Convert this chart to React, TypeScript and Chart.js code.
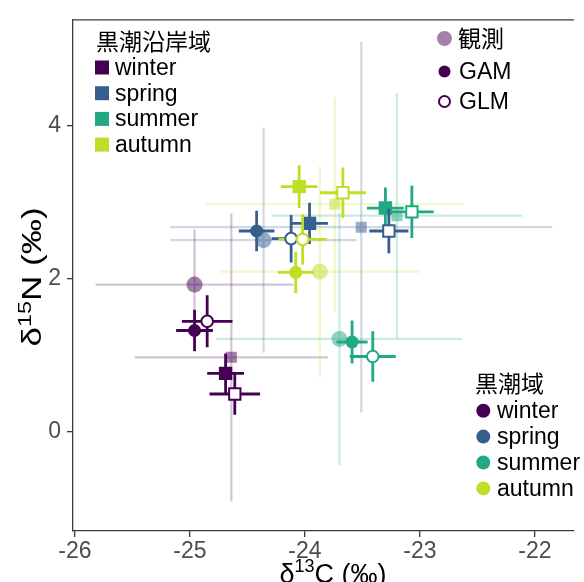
import React, { useEffect, useRef } from "react";
import { Chart, registerables } from "chart.js";

Chart.register(...registerables);

// ---------- data ----------
const seasons = ["winter", "spring", "summer", "autumn"];
const seasonColors = ["#440154", "#355F8D", "#22A884", "#BDDF26"];
const xTicks = [-26, -25, -24, -23, -22];
const yTicks = [0, 2, 4];
const coastalTitle = "黒潮沿岸域";
const kuroshioTitle = "黒潮域";
const typeLabels = ["観測", "GAM", "GLM"];
const xTitle = ["δ", "13", "C (‰)"];
const yTitle = ["δ", "15", "N (‰)"];

// 観測 (observations) — 黒潮沿岸域 (squares)
const coastalObsX = [-24.64, -23.51, -23.2, -23.74];
const coastalObsY = [0.97, 2.67, 2.82, 2.97];
const coastalObsXErr = [0.84, 1.66, 1.09, 1.12];
const coastalObsYErr = [1.88, 2.42, 1.6, 1.4];

// 観測 — 黒潮域 (circles)
const kuroshioObsX = [-24.96, -24.36, -23.7, -23.87];
const kuroshioObsY = [1.92, 2.5, 1.21, 2.09];
const kuroshioObsXErr = [0.86, 0.81, 1.07, 0.87];
const kuroshioObsYErr = [0.72, 1.47, 1.65, 1.38];

// GAM — 黒潮沿岸域
const coastalGamX = [-24.69, -23.96, -23.3, -24.05];
const coastalGamY = [0.76, 2.72, 2.92, 3.2];
const coastalGamXErr = [0.16, 0.16, 0.16, 0.16];
const coastalGamYErr = [0.26, 0.27, 0.27, 0.28];

// GAM — 黒潮域
const kuroshioGamX = [-24.96, -24.42, -23.59, -24.08];
const kuroshioGamY = [1.32, 2.62, 1.17, 2.08];
const kuroshioGamXErr = [0.16, 0.155, 0.135, 0.155];
const kuroshioGamYErr = [0.27, 0.265, 0.28, 0.27];

// GLM — 黒潮沿岸域
const coastalGlmX = [-24.61, -23.27, -23.07, -23.67];
const coastalGlmY = [0.49, 2.62, 2.87, 3.12];
const coastalGlmXErr = [0.22, 0.17, 0.19, 0.2];
const coastalGlmYErr = [0.27, 0.29, 0.34, 0.33];

// GLM — 黒潮域
const kuroshioGlmX = [-24.85, -24.12, -23.41, -24.02];
const kuroshioGlmY = [1.44, 2.52, 0.98, 2.51];
const kuroshioGlmXErr = [0.22, 0.17, 0.2, 0.21];
const kuroshioGlmYErr = [0.34, 0.31, 0.33, 0.33];

// ---------- helpers ----------
const LATIN = "'Liberation Sans', Arial, Helvetica, sans-serif";
const CJK = "'Noto Sans CJK JP', 'Noto Sans CJK SC', sans-serif";
const AXIS_COLOR = "#3a3a3a";

function rgba(hex: string, a: number) {
  const n = parseInt(hex.slice(1), 16);
  return `rgba(${(n >> 16) & 255},${(n >> 8) & 255},${n & 255},${a})`;
}

function makeSet(
  label: string,
  xs: number[],
  ys: number[],
  xe: number[],
  ye: number[],
  extra: any
) {
  return {
    label,
    data: xs.map((x, i) => ({ x, y: ys[i] })),
    xErr: xe,
    yErr: ye,
    ...extra,
  };
}

const errorBarPlugin = {
  id: "errorBars",
  beforeDatasetDraw(chart: any, args: any) {
    const ds = chart.data.datasets[args.index];
    if (!ds.xErr) return;
    const { ctx, chartArea } = chart;
    const xs = chart.scales.x;
    const ys = chart.scales.y;
    ctx.save();
    ctx.beginPath();
    ctx.rect(
      chartArea.left,
      chartArea.top,
      chartArea.right - chartArea.left,
      chartArea.bottom - chartArea.top
    );
    ctx.clip();
    ctx.lineWidth = ds.errWidth;
    ctx.lineCap = "butt";
    ds.data.forEach((p: any, i: number) => {
      ctx.strokeStyle = ds.errColors[i];
      const px = xs.getPixelForValue(p.x);
      const py = ys.getPixelForValue(p.y);
      ctx.beginPath();
      ctx.moveTo(xs.getPixelForValue(p.x - ds.xErr[i]), py);
      ctx.lineTo(xs.getPixelForValue(p.x + ds.xErr[i]), py);
      ctx.moveTo(px, ys.getPixelForValue(p.y - ds.yErr[i]));
      ctx.lineTo(px, ys.getPixelForValue(p.y + ds.yErr[i]));
      ctx.stroke();
    });
    ctx.restore();
  },
};

function drawSupText(
  ctx: CanvasRenderingContext2D,
  parts: string[],
  size: number,
  cx: number,
  cy: number,
  rot: number,
  stretch: number
) {
  const main = `${size}px ${LATIN}`;
  const sup = `${Math.round(size * 0.66)}px ${LATIN}`;
  ctx.save();
  ctx.translate(cx, cy);
  ctx.rotate(rot);
  ctx.scale(stretch, 1);
  ctx.fillStyle = "#000";
  ctx.textBaseline = "alphabetic";
  ctx.textAlign = "left";
  ctx.font = main;
  const w0 = ctx.measureText(parts[0]).width;
  const w2 = ctx.measureText(parts[2]).width;
  ctx.font = sup;
  const w1 = ctx.measureText(parts[1]).width;
  const total = w0 + w1 + w2;
  let x = -total / 2;
  const base = size * 0.36;
  ctx.font = main;
  ctx.fillText(parts[0], x, base);
  x += w0;
  ctx.font = sup;
  ctx.fillText(parts[1], x, base - size * 0.38);
  x += w1;
  ctx.font = main;
  ctx.fillText(parts[2], x, base);
  ctx.restore();
}

const overlayPlugin = {
  id: "overlay",
  afterDraw(chart: any) {
    const { ctx, chartArea } = chart;
    ctx.save();
    // top frame line
    ctx.strokeStyle = AXIS_COLOR;
    ctx.lineWidth = 1.3;
    ctx.beginPath();
    ctx.moveTo(chartArea.left, chartArea.top);
    ctx.lineTo(chartArea.right, chartArea.top);
    ctx.stroke();

    ctx.textBaseline = "middle";
    ctx.textAlign = "left";
    ctx.fillStyle = "#000";

    // 黒潮沿岸域 legend (top-left)
    ctx.font = `23px ${CJK}`;
    ctx.fillText(coastalTitle, 96, 41);
    ctx.font = `23px ${LATIN}`;
    seasons.forEach((s, i) => {
      const cy = 67.5 + i * 25.7;
      ctx.fillStyle = seasonColors[i];
      ctx.fillRect(95, cy - 7, 14, 14);
      ctx.fillStyle = "#000";
      ctx.fillText(s, 115, cy + 1);
    });

    // type legend (top-right)
    const tx = 444.5;
    const tys = [38.5, 71.5, 101.5];
    ctx.fillStyle = rgba(seasonColors[0], 0.5);
    ctx.beginPath();
    ctx.arc(tx, tys[0], 7.5, 0, Math.PI * 2);
    ctx.fill();
    ctx.fillStyle = seasonColors[0];
    ctx.beginPath();
    ctx.arc(tx, tys[1], 6, 0, Math.PI * 2);
    ctx.fill();
    ctx.fillStyle = "#fff";
    ctx.strokeStyle = seasonColors[0];
    ctx.lineWidth = 2;
    ctx.beginPath();
    ctx.arc(tx, tys[2], 5.5, 0, Math.PI * 2);
    ctx.fill();
    ctx.stroke();
    ctx.fillStyle = "#000";
    ctx.font = `23px ${CJK}`;
    ctx.fillText(typeLabels[0], 458, tys[0]);
    ctx.font = `23px ${LATIN}`;
    ctx.fillText(typeLabels[1], 459, tys[1] + 1);
    ctx.fillText(typeLabels[2], 459, tys[2] + 1);

    // 黒潮域 legend (bottom-right)
    ctx.font = `23px ${CJK}`;
    ctx.fillText(kuroshioTitle, 475, 383);
    ctx.font = `23px ${LATIN}`;
    seasons.forEach((s, i) => {
      const cy = 410.7 + i * 25.9;
      ctx.fillStyle = seasonColors[i];
      ctx.beginPath();
      ctx.arc(483.3, cy, 7, 0, Math.PI * 2);
      ctx.fill();
      ctx.fillStyle = "#000";
      ctx.fillText(s, 497, cy + 1);
    });

    // axis titles
    drawSupText(ctx, xTitle, 27, 333, 573, 0, 1);
    drawSupText(ctx, yTitle, 27, 31.5, 277, -Math.PI / 2, 1.3);
    ctx.restore();
  },
};

export default function App() {
  const ref = useRef<HTMLCanvasElement>(null);

  useEffect(() => {
    const canvas = ref.current;
    if (!canvas) return;

    const obsBar = (c: string) => rgba(c, 0.24);
    const datasets = [
      makeSet("黒潮沿岸域 観測", coastalObsX, coastalObsY, coastalObsXErr, coastalObsYErr, {
        pointStyle: "rect",
        pointRadius: 7.8,
        pointBackgroundColor: seasonColors.map((c) => rgba(c, 0.5)),
        pointBorderWidth: 0,
        errColors: seasonColors.map(obsBar),
        errWidth: 2.2,
      }),
      makeSet("黒潮域 観測", kuroshioObsX, kuroshioObsY, kuroshioObsXErr, kuroshioObsYErr, {
        pointStyle: "circle",
        pointRadius: 8,
        pointBackgroundColor: seasonColors.map((c) => rgba(c, 0.5)),
        pointBorderWidth: 0,
        errColors: seasonColors.map(obsBar),
        errWidth: 2.2,
      }),
      makeSet("黒潮沿岸域 GAM", coastalGamX, coastalGamY, coastalGamXErr, coastalGamYErr, {
        pointStyle: "rect",
        pointRadius: 9.5,
        pointBackgroundColor: seasonColors,
        pointBorderWidth: 0,
        errColors: seasonColors,
        errWidth: 2.8,
      }),
      makeSet("黒潮域 GAM", kuroshioGamX, kuroshioGamY, kuroshioGamXErr, kuroshioGamYErr, {
        pointStyle: "circle",
        pointRadius: 6.5,
        pointBackgroundColor: seasonColors,
        pointBorderWidth: 0,
        errColors: seasonColors,
        errWidth: 2.8,
      }),
      makeSet("黒潮沿岸域 GLM", coastalGlmX, coastalGlmY, coastalGlmXErr, coastalGlmYErr, {
        pointStyle: "rect",
        pointRadius: 8,
        pointBackgroundColor: "#ffffff",
        pointBorderColor: seasonColors,
        pointBorderWidth: 2,
        errColors: seasonColors,
        errWidth: 2.8,
      }),
      makeSet("黒潮域 GLM", kuroshioGlmX, kuroshioGlmY, kuroshioGlmXErr, kuroshioGlmYErr, {
        pointStyle: "circle",
        pointRadius: 5.8,
        pointBackgroundColor: "#ffffff",
        pointBorderColor: seasonColors,
        pointBorderWidth: 2,
        errColors: seasonColors,
        errWidth: 2.8,
      }),
    ].map((d, i) => ({ ...d, order: -i }));

    const chart = new Chart(canvas, {
      type: "scatter",
      data: { datasets } as any,
      options: {
        animation: false,
        responsive: false,
        maintainAspectRatio: false,
        devicePixelRatio: 1,
        events: [],
        layout: { padding: { top: 14, left: 0, right: 0, bottom: 0 } },
        plugins: {
          legend: { display: false },
          tooltip: { enabled: false },
          title: { display: false },
        },
        scales: {
          x: {
            type: "linear",
            min: -26.017,
            max: -21.66,
            afterBuildTicks: (scale: any) => {
              scale.ticks = xTicks.map((v) => ({ value: v }));
            },
            afterFit: (scale: any) => {
              scale.height = 51;
            },
            ticks: {
              color: "#4d4d4d",
              font: { family: LATIN, size: 23 },
              padding: 1,
              maxRotation: 0,
              autoSkip: false,
            },
            grid: {
              display: true,
              drawOnChartArea: false,
              drawTicks: true,
              tickLength: 6,
              color: AXIS_COLOR,
              lineWidth: 1.3,
            },
            border: { display: true, color: AXIS_COLOR, width: 1.3 },
          },
          y: {
            type: "linear",
            min: -1.3,
            max: 5.38,
            afterBuildTicks: (scale: any) => {
              scale.ticks = yTicks.map((v) => ({ value: v }));
            },
            afterFit: (scale: any) => {
              scale.width = 73;
            },
            ticks: {
              color: "#4d4d4d",
              font: { family: LATIN, size: 23 },
              padding: 6,
              autoSkip: false,
            },
            grid: {
              display: true,
              drawOnChartArea: false,
              drawTicks: true,
              tickLength: 6,
              color: AXIS_COLOR,
              lineWidth: 1.3,
            },
            border: { display: true, color: AXIS_COLOR, width: 1.3 },
          },
        },
      } as any,
      plugins: [errorBarPlugin, overlayPlugin],
    });
    return () => chart.destroy();
  }, []);

  return (
    <div
      style={{
        position: "fixed",
        left: 0,
        top: 0,
        width: 584,
        height: 582,
        background: "#ffffff",
        overflow: "hidden",
      }}
    >
      <canvas ref={ref} width={584} height={582} style={{ display: "block" }} />
    </div>
  );
}
